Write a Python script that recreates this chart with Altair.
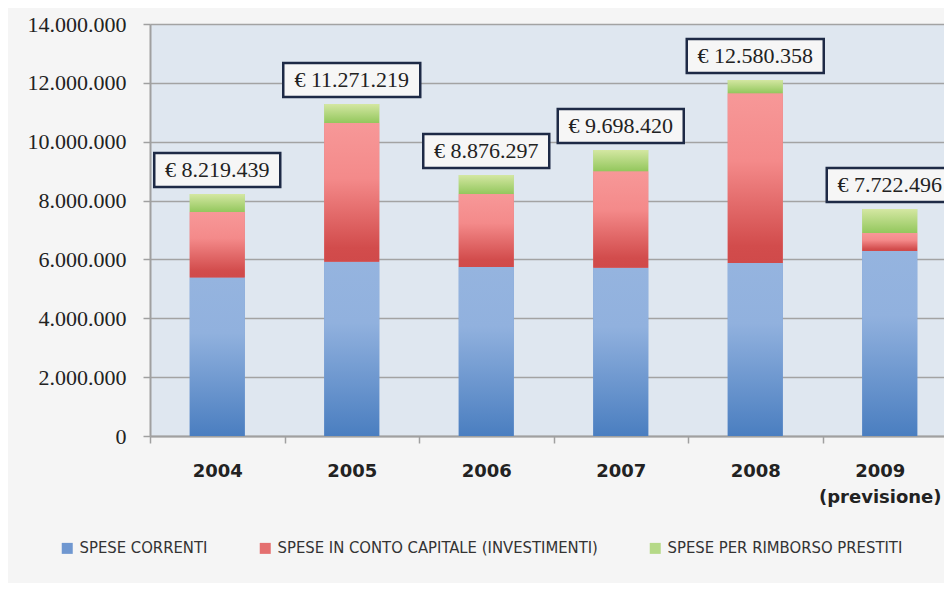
import altair as alt
import pandas as pd

categories = ["2004", "2005", "2006", "2007", "2008", "2009 (previsione)"]
series_names = [
    "SPESE CORRENTI",
    "SPESE IN CONTO CAPITALE (INVESTIMENTI)",
    "SPESE PER RIMBORSO PRESTITI",
]
spese_correnti = [5390000, 5920000, 5740000, 5720000, 5880000, 6290000]
spese_capitale = [2220000, 4720000, 2480000, 3280000, 5770000, 610000]
spese_prestiti = [610000, 640000, 650000, 720000, 450000, 810000]
total_labels = ["€ 8.219.439", "€ 11.271.219", "€ 8.876.297",
                "€ 9.698.420", "€ 12.580.358", "€ 7.722.496"]
y_ticks = [0, 2000000, 4000000, 6000000, 8000000, 10000000, 12000000, 14000000]

# stacked table
rows = []
for i, cat in enumerate(categories):
    base = 0
    for name, vals in zip(series_names, [spese_correnti, spese_capitale, spese_prestiti]):
        rows.append({"year": cat, "serie": name, "y0": base, "y1": base + vals[i]})
        base += vals[i]
df = pd.DataFrame(rows)

tot_rows = []
for i, cat in enumerate(categories):
    total = spese_correnti[i] + spese_capitale[i] + spese_prestiti[i]
    w = 11 * len(total_labels[i]) + 5
    h = 34.0 / w
    tot_rows.append({
        "year": cat, "total": total, "label": total_labels[i],
        "shape": f"M-1,-{h:.4f}H1V{h:.4f}H-1Z", "sz": w * w,
    })
dft = pd.DataFrame(tot_rows)

label_expr = (
    "datum.label == '2009 (previsione)' ? ['\u00a0\u00a0\u00a02009', '(previsione)'] "
    ": split(datum.label, ' ')"
)

x_enc = alt.X(
    "year:N", sort=categories,
    scale=alt.Scale(domain=categories, paddingInner=0, paddingOuter=0, range=[0, 807]),
    axis=alt.Axis(
        title=None, labelAngle=0, labelFont="DejaVu Sans", labelFontWeight="bold",
        labelFontSize=18, labelColor="#222222", labelPadding=19, tickSize=7,
        tickColor="#a0a0a0", tickWidth=1.5, domainColor="#a0a0a0", domainWidth=2,
        tickBand="extent", labelExpr=label_expr, labelLineHeight=26,
        labelOffset={"condition": {"test": "datum.value == '2009 (previsione)'", "value": -10},
                     "value": 0},
    ),
)
y_scale = alt.Scale(domain=[0, 14000000], nice=False)
y_axis = alt.Axis(
    title=None, values=y_ticks, grid=True, gridColor="#a3a3a3", gridWidth=1.6,
    labelExpr="replace(format(datum.value, ','), regexp(',', 'g'), '.')",
    labelFont="Liberation Serif", labelFontSize=22, labelColor="#222222",
    labelPadding=17, tickSize=7, tickColor="#a0a0a0", tickWidth=1.5,
    domainColor="#a0a0a0", domainWidth=2,
)

base = alt.Chart(df).mark_bar(width=55).encode(
    x=x_enc,
    y=alt.Y("y1:Q", scale=y_scale, axis=y_axis),
    y2="y0:Q",
    color=alt.Color(
        "serie:N",
        scale=alt.Scale(domain=series_names, range=["#6f97d0", "#e46f6f", "#b5d987"]),
        legend=alt.Legend(
            title=None, orient="none", legendX=-91, legendY=516, direction="horizontal",
            symbolType="square", symbolSize=121, symbolStrokeWidth=0, labelOffset=4,
            labelFont="Liberation Sans Narrow, DejaVu Sans Condensed, sans-serif",
            labelFontSize=16.5, labelColor="#333333", labelLimit=500,
            columnPadding=49, padding=0,
        ),
    ),
)

def grad(stops):
    return alt.LinearGradient(
        gradient="linear", x1=0, y1=0, x2=0, y2=1,
        stops=[alt.GradientStop(offset=o, color=c) for o, c in stops],
    )

gradients = [
    grad([(0, "#95b4df"), (0.35, "#91b1de"), (1, "#4a7ec0")]),
    grad([(0, "#f79898"), (0.4, "#f48a8a"), (0.9, "#d24c4c"), (1, "#d04a4a")]),
    grad([(0, "#d4e7a2"), (1, "#93c75d")]),
]
overlays = []
for name, g in zip(series_names, gradients):
    overlays.append(
        alt.Chart(df).transform_filter(alt.datum.serie == name)
        .mark_bar(width=55, fill=g)
        .encode(x=x_enc, y=alt.Y("y1:Q", scale=y_scale), y2="y0:Q")
    )

boxes = alt.Chart(dft).mark_point(
    filled=True, fill="#f6f6f6", stroke="#1e2a46", strokeWidth=2.5, opacity=1,
).encode(
    x=x_enc,
    y=alt.Y("total:Q", scale=y_scale),
    yOffset=alt.value(-24),
    shape=alt.Shape("shape:N", scale=None),
    size=alt.Size("sz:Q", scale=None),
)

texts = alt.Chart(dft).mark_text(
    dy=-24, font="Liberation Serif", fontSize=22, color="#222222", baseline="middle",
).encode(
    x=x_enc,
    y=alt.Y("total:Q", scale=y_scale),
    text="label:N",
)

chart = alt.layer(base, *overlays, boxes, texts).properties(
    width=794, height=412, background="#f5f5f5",
    autosize=alt.AutoSizeParams(type="none"),
    padding={"left": 142, "top": 16, "right": 0, "bottom": 147},
).configure_view(fill="#dfe7f0", stroke=None)

chart.save("out.html", embed_options={"renderer": "svg", "actions": False})
